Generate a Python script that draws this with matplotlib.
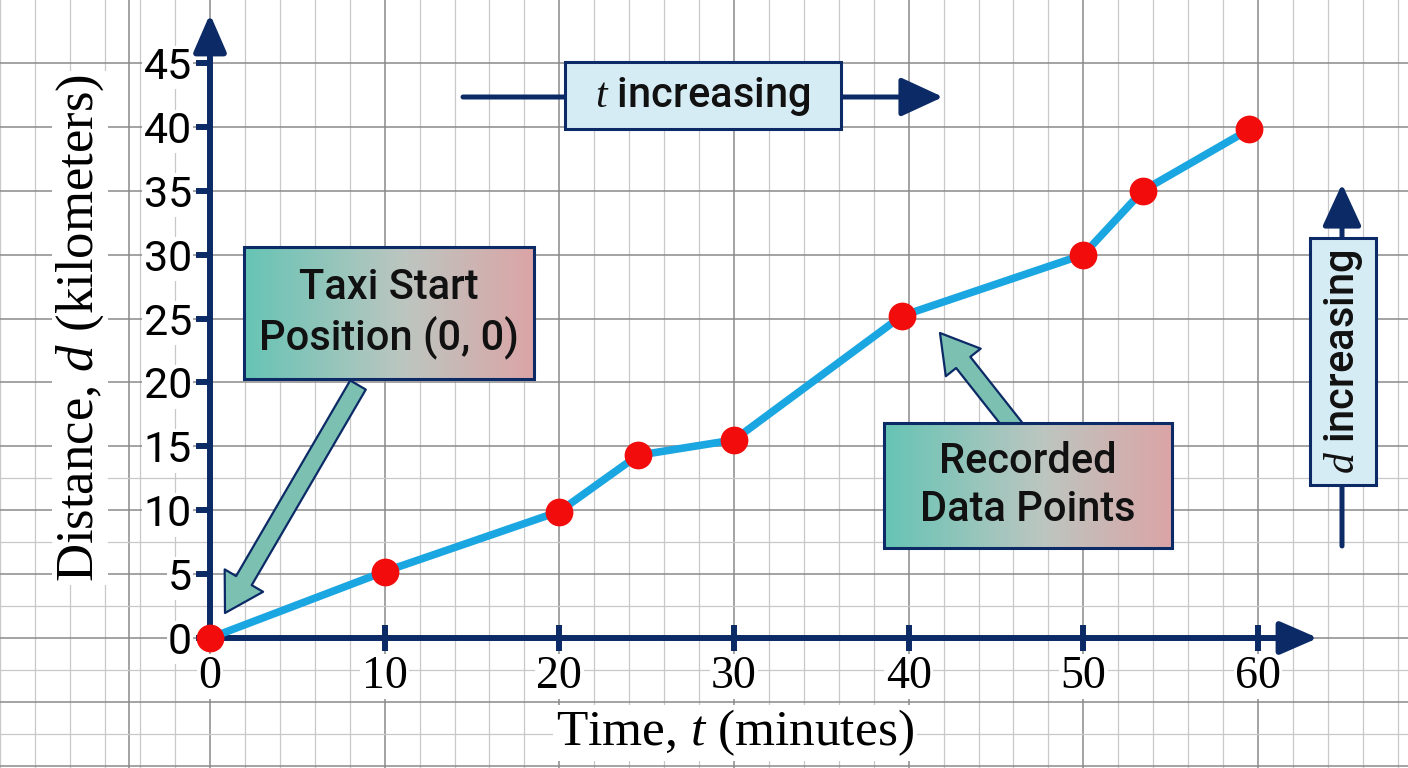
import numpy as np
import matplotlib
matplotlib.use("Agg")
import matplotlib.pyplot as plt
from matplotlib import font_manager
from matplotlib.patches import Rectangle, FancyArrowPatch
from matplotlib.colors import to_rgb

# ---------------- data ----------------
time_min = [0, 10, 20, 24.5, 30, 39.6, 50, 53.4, 59.5]
distance_km = [0, 5.2, 9.9, 14.3, 15.5, 25.2, 30.0, 35.0, 39.8]
x_ticks = [0, 10, 20, 30, 40, 50, 60]
y_ticks = [0, 5, 10, 15, 20, 25, 30, 35, 40, 45]
x_label = "Time, $t$ (minutes)"
y_label = "Distance, $d$ (kilometers)"
start_note = "Taxi Start\nPosition (0, 0)"
points_note = "Recorded\nData Points"
t_note = "$t$ increasing"
d_note = "$d$ increasing"

# ---------------- fonts ----------------
names = {f.name for f in font_manager.fontManager.ttflist}
NARROW = "Liberation Sans Narrow" if "Liberation Sans Narrow" in names else "Roboto"
SERIF = "Liberation Serif" if "Liberation Serif" in names else "DejaVu Serif"
plt.rcParams["mathtext.fontset"] = "custom"
plt.rcParams["mathtext.it"] = SERIF + ":italic"
plt.rcParams["mathtext.rm"] = SERIF

NAVY = "#0c2b66"
LINE = "#1aa6e0"
DOT = "#f20c0c"

W, H = 1408, 768
fig = plt.figure(figsize=(W / 100, H / 100), dpi=100)
ax = fig.add_axes([0, 0, 1, 1])

# pixel <-> data mapping (origin at pixel (210, 638))
X0, Y0 = 210.0, 638.0
SX = (1258 - 210) / 60.0
SY = (638 - 63) / 45.0


def px(p):
    return (p - X0) / SX


def py(p):
    return (Y0 - p) / SY


ax.set_xlim(px(0), px(W))
ax.set_ylim(py(H), py(0))
ax.set_facecolor("white")

# ---------------- background graph paper ----------------
for xv in np.arange(-12, 70, 2):
    if xv % 10 == 0 and 0 <= xv <= 60:
        continue
    ax.axvline(xv, color="#c8c8c8", lw=0.9, zorder=0)
for xv in range(0, 70, 10):
    ax.axvline(xv, color="#8a8a8a", lw=1.1, zorder=0)
ax.axvline(px(129), color="#8a8a8a", lw=1.1, zorder=0)
for yv in np.arange(-10, 50, 5):
    ax.axhline(yv, color="#8a8a8a", lw=1.1, zorder=0)
for yv in np.arange(-7.5, 12.6, 5):
    ax.axhline(yv, color="#c8c8c8", lw=0.9, zorder=0)

# ---------------- axes (spines at origin) ----------------
for s in ["top", "right"]:
    ax.spines[s].set_visible(False)
ax.spines["left"].set_position(("data", 0))
ax.spines["bottom"].set_position(("data", 0))
ax.spines["left"].set_bounds(0, py(40))
ax.spines["bottom"].set_bounds(0, px(1290))
for s in ["left", "bottom"]:
    ax.spines[s].set_color(NAVY)
    ax.spines[s].set_linewidth(4.3)
    ax.spines[s].set_zorder(3)

ax.set_xticks(x_ticks)
ax.set_yticks(y_ticks)
ax.set_xticklabels([str(v) for v in x_ticks], fontfamily=SERIF, fontsize=33)
ax.set_yticklabels([str(v) for v in y_ticks], fontfamily=NARROW, fontsize=31)
ax.tick_params(axis="x", direction="inout", length=19, width=4.3, color=NAVY, pad=3)
ax.tick_params(axis="y", direction="out", length=10, width=4.3, color=NAVY, pad=3)
for lab in ax.get_xticklabels() + ax.get_yticklabels():
    lab.set_bbox(dict(facecolor="white", edgecolor="none", pad=1))

# arrow heads on axes
ax.annotate("", xy=(0, py(14)), xytext=(0, py(45)),
            arrowprops=dict(arrowstyle="-|>,head_length=1.15,head_width=0.5",
                            mutation_scale=20, color=NAVY, lw=4.3, shrinkA=0, shrinkB=0),
            zorder=3)
ax.annotate("", xy=(px(1318), 0), xytext=(px(1280), 0),
            arrowprops=dict(arrowstyle="-|>,head_length=1.15,head_width=0.5",
                            mutation_scale=20, color=NAVY, lw=4.3, shrinkA=0, shrinkB=0),
            zorder=3)

# ---------------- data line ----------------
ax.plot(time_min, distance_km, color=LINE, lw=5.5, solid_capstyle="round",
        solid_joinstyle="round", zorder=5)
ax.plot(time_min, distance_km, "o", color=DOT, ms=20, mec="none", zorder=6)

# ---------------- axis labels ----------------
ax.text(px(735), py(733), x_label, fontfamily=SERIF, fontsize=37, ha="center",
        va="center", bbox=dict(facecolor="white", edgecolor="none", pad=2), zorder=4)
ax.text(px(80), py(328), y_label, fontfamily=SERIF, fontsize=38, ha="center",
        va="center", rotation=90,
        bbox=dict(facecolor="white", edgecolor="none", pad=2), zorder=4)


# ---------------- gradient callout boxes ----------------
def grad_box(x0, y0, x1, y1, text, fs):
    c0 = np.array(to_rgb("#66c4b5"))
    c1 = np.array(to_rgb("#bcc6c0"))
    c2 = np.array(to_rgb("#dca4a6"))
    n = 256
    u = np.linspace(0, 1, n)
    cols = np.where(u[:, None] < 0.55,
                    c0 + (c1 - c0) * (u[:, None] / 0.55),
                    c1 + (c2 - c1) * ((u[:, None] - 0.55) / 0.45))
    img = cols[None, :, :]
    ax.imshow(img, extent=[px(x0), px(x1), py(y1), py(y0)], aspect="auto",
              zorder=7, interpolation="bilinear")
    ax.add_patch(Rectangle((px(x0), py(y1)), px(x1) - px(x0), py(y0) - py(y1),
                           fill=False, ec=NAVY, lw=2.2, zorder=8))
    ax.text(px((x0 + x1) / 2), py((y0 + y1) / 2), text, fontfamily=NARROW,
            fontsize=fs, fontweight="medium", ha="center", va="center",
            linespacing=1.2, color="#111111", zorder=9)


def fat_arrow(tail, tip):
    a = FancyArrowPatch((px(tail[0]), py(tail[1])), (px(tip[0]), py(tip[1])),
                        arrowstyle="simple,head_length=2.7,head_width=3.2,tail_width=1.3",
                        mutation_scale=10, fc="#7cc0b2", ec=NAVY, lw=1.6,
                        shrinkA=0, shrinkB=0, zorder=6.5)
    ax.add_patch(a)


fat_arrow((358, 385), (225, 613))
fat_arrow((1015, 428), (940, 333))
grad_box(244, 247, 534, 379, start_note, 30)
grad_box(884, 423, 1172, 548, points_note, 30)

# ---------------- t increasing ----------------
ax.annotate("", xy=(px(943), py(97)), xytext=(px(463), py(97)),
            arrowprops=dict(arrowstyle="-|>,head_length=1.3,head_width=0.6",
                            mutation_scale=20, color=NAVY, lw=3.6, shrinkA=0, shrinkB=0),
            zorder=7)
ax.add_patch(Rectangle((px(565), py(129)), px(841) - px(565), py(62) - py(129),
                       fc="#d6ecf4", ec=NAVY, lw=2.2, zorder=8))
ax.text(px(703), py(96), t_note, fontfamily=NARROW, fontsize=30, fontweight="medium",
        ha="center", va="center", color="#111111", zorder=9)

# ---------------- d increasing ----------------
ax.annotate("", xy=(px(1342), py(184)), xytext=(px(1342), py(546)),
            arrowprops=dict(arrowstyle="-|>,head_length=1.3,head_width=0.6",
                            mutation_scale=20, color=NAVY, lw=3.6, shrinkA=0, shrinkB=0),
            zorder=7)
ax.add_patch(Rectangle((px(1310), py(485)), px(1376) - px(1310), py(238) - py(485),
                       fc="#d6ecf4", ec=NAVY, lw=2.2, zorder=8))
ax.text(px(1343), py(362), d_note, fontfamily=NARROW, fontsize=30, fontweight="medium",
        ha="center", va="center", rotation=90, color="#111111", zorder=9)

ax.set_xlim(px(0), px(W))
ax.set_ylim(py(H), py(0))
fig.savefig("out.png", dpi=100)
